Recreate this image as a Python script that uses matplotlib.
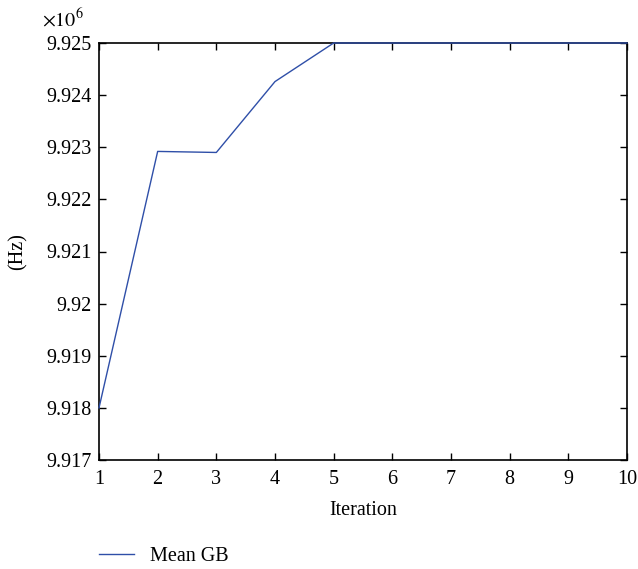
import matplotlib
matplotlib.use("Agg")
import matplotlib.pyplot as plt
from matplotlib.ticker import FuncFormatter

plt.rcParams['font.family'] = ['Liberation Serif', 'DejaVu Serif']
plt.rcParams['mathtext.fontset'] = 'stix'

iterations = [1, 2, 3, 4, 5, 6, 7, 8, 9, 10]
mean_gb = [9.918e6, 9.92292e6, 9.92290e6, 9.92426e6, 9.92500e6,
           9.92500e6, 9.92500e6, 9.92500e6, 9.92500e6, 9.92500e6]
y_ticks = [9.917e6, 9.918e6, 9.919e6, 9.920e6, 9.921e6, 9.922e6, 9.923e6, 9.924e6, 9.925e6]

FS = 14.5

fig = plt.figure(figsize=(6.38, 5.69), dpi=100)
ax = fig.add_axes([99 / 638, 1 - 460 / 569, 528 / 638, 417 / 569])

ax.plot(iterations, mean_gb, color='#2f4fa8', lw=1.0, label='Mean GB',
        clip_on=False, zorder=3)

ax.set_xlim(1, 10)
ax.set_ylim(9.917e6, 9.925e6)
ax.set_xticks(iterations)
ax.set_yticks(y_ticks)
ax.yaxis.set_major_formatter(FuncFormatter(lambda v, p: f"{v / 1e6:g}"))
ax.tick_params(direction='in', top=True, right=True, length=5, width=1,
               labelsize=FS)
ax.tick_params(axis='x', pad=7)
ax.tick_params(axis='y', pad=5)
for s in ax.spines.values():
    s.set_linewidth(1.2)

ax.set_xlabel('Iteration', fontsize=FS, labelpad=9)
ax.set_ylabel('(Hz)', fontsize=FS, labelpad=14)
ax.text(-0.108, 1.027, r'$\times10^6$', transform=ax.transAxes, fontsize=FS,
        ha='left', va='bottom')

fig.legend(loc='center left', bbox_to_anchor=(99 / 638, 1 - 556 / 569),
           frameon=False, fontsize=FS, handlelength=1.75, handletextpad=0.8,
           borderpad=0, borderaxespad=0)

fig.savefig('out.png', dpi=100)
